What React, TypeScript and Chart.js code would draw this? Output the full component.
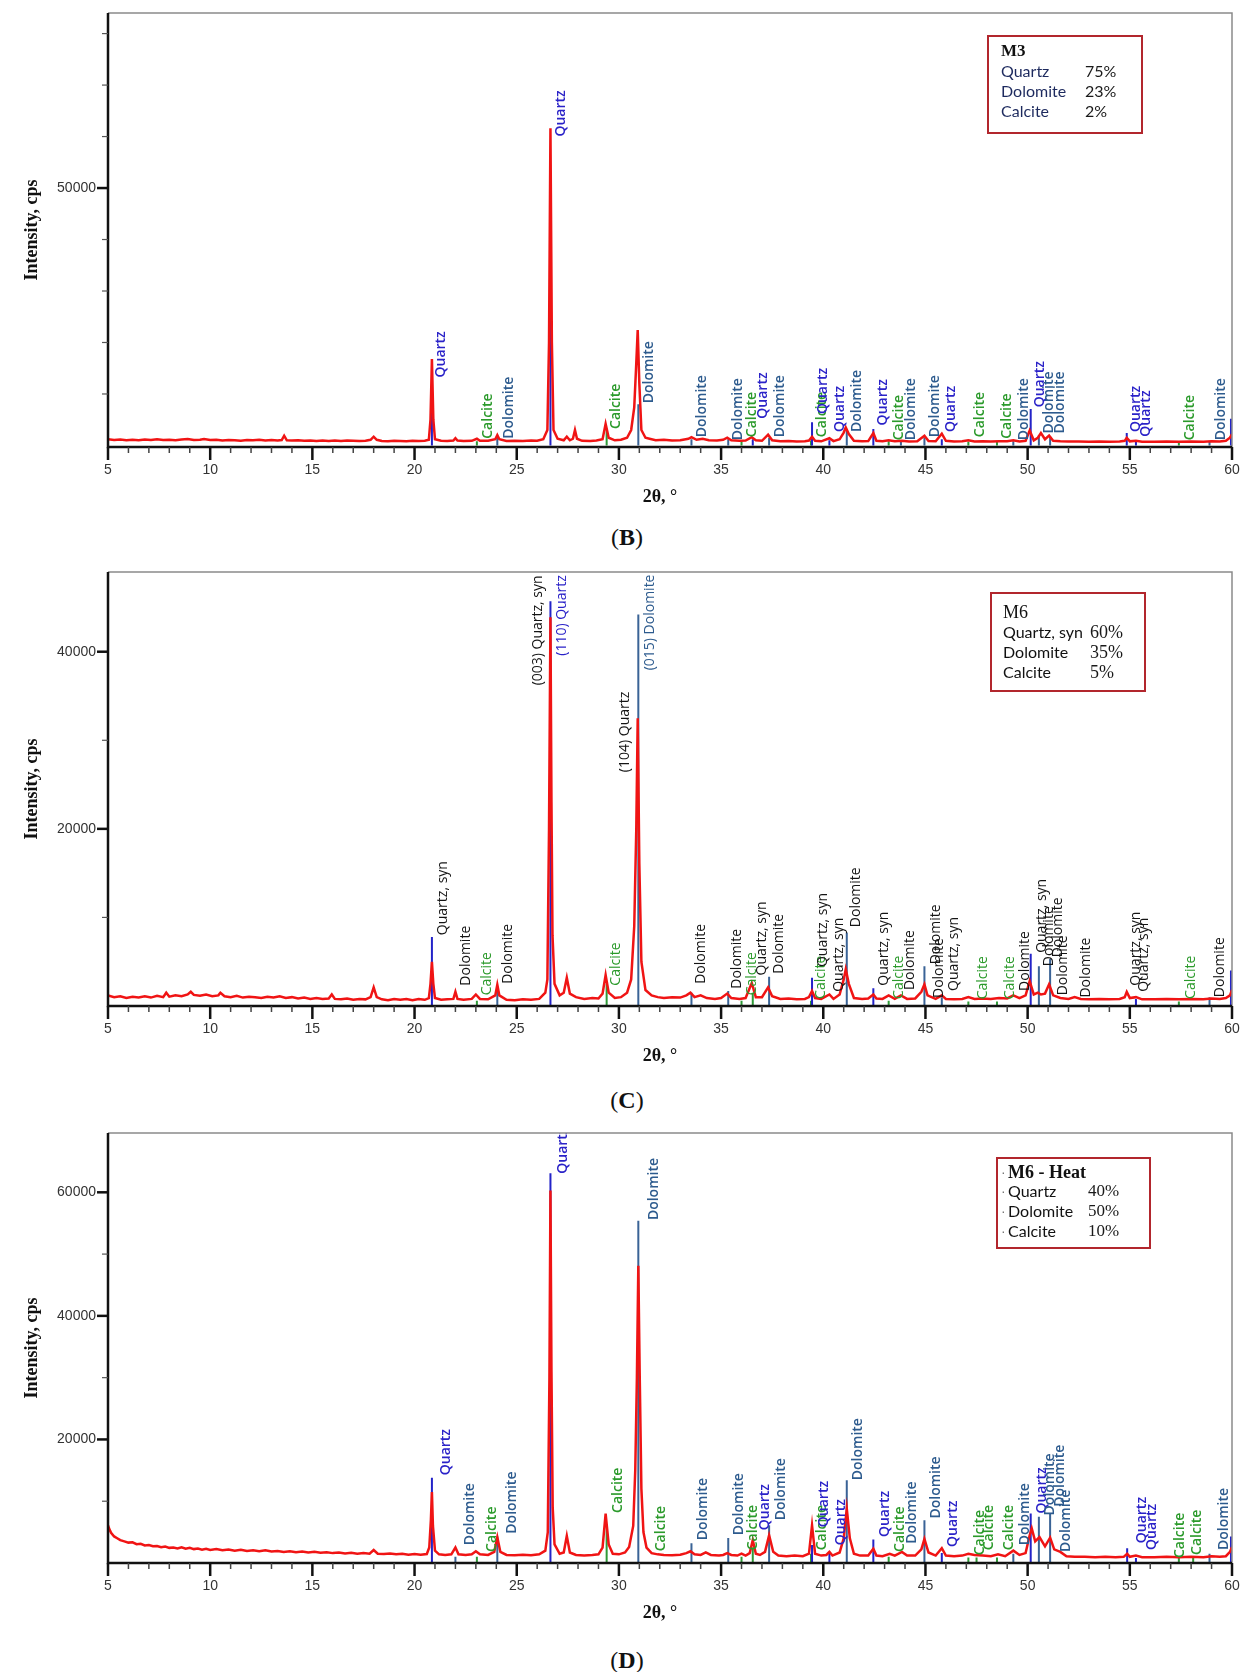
import { useEffect, useRef } from 'react';
import { Chart, registerables } from 'chart.js';

Chart.register(...registerables);

// [2θ, cps]
const B_PATTERN: number[][] = [
  [5.0, 1200], [5.3, 1050], [5.6, 1150], [5.9, 1000], [6.2, 1100], [6.5, 1000], [6.8, 1150], [7.1, 1050], [7.4, 1200], [7.7, 1050],
  [8.0, 1100], [8.3, 1000], [8.6, 1150], [8.9, 1250], [9.2, 1050], [9.5, 1100], [9.7, 1250], [10.0, 1050], [10.3, 1100], [10.6, 950],
  [10.9, 1050], [11.2, 1000], [11.5, 900], [11.8, 1050], [12.1, 1000], [12.4, 1100], [12.7, 950], [13.0, 1050], [13.3, 950], [13.5, 1050],
  [13.62, 1900], [13.75, 1000], [14.0, 950], [14.3, 1000], [14.6, 900], [14.9, 950], [15.2, 850], [15.5, 950], [15.8, 850], [16.1, 950],
  [16.4, 850], [16.7, 950], [17.0, 900], [17.3, 850], [17.6, 900], [17.85, 1100], [18.0, 1700], [18.15, 1100], [18.4, 850], [18.7, 800],
  [19.0, 900], [19.3, 850], [19.6, 800], [19.9, 900], [20.2, 850], [20.5, 900], [20.7, 1100], [20.78, 5000], [20.85, 16800], [20.92, 5000],
  [21.0, 1200], [21.3, 900], [21.6, 850], [21.9, 950], [22.0, 1400], [22.1, 950], [22.4, 850], [22.8, 900], [23.05, 1300], [23.2, 900],
  [23.6, 900], [23.95, 1200], [24.05, 2000], [24.15, 1200], [24.5, 850], [24.9, 900], [25.3, 850], [25.7, 950], [26.0, 900], [26.3, 1200],
  [26.5, 3000], [26.58, 20000], [26.65, 61600], [26.72, 20000], [26.8, 3000], [27.0, 1300], [27.3, 1000], [27.45, 1700], [27.6, 1000], [27.75, 1300],
  [27.85, 3000], [27.95, 1300], [28.2, 900], [28.6, 850], [28.9, 950], [29.2, 1200], [29.35, 4200], [29.5, 1500], [29.8, 1000], [30.1, 1100],
  [30.4, 1500], [30.6, 3000], [30.75, 7400], [30.85, 16000], [30.92, 22400], [31.0, 12000], [31.1, 3000], [31.3, 1500], [31.5, 1300], [31.8, 1000],
  [32.2, 1100], [32.6, 950], [33.0, 1000], [33.4, 1300], [33.55, 1600], [33.8, 1100], [34.1, 1300], [34.4, 1000], [34.8, 950], [35.1, 1100],
  [35.3, 1500], [35.5, 1000], [35.9, 900], [36.2, 950], [36.5, 1600], [36.7, 1000], [37.0, 900], [37.3, 2100], [37.5, 1000], [37.9, 800],
  [38.3, 850], [38.7, 750], [39.1, 800], [39.3, 950], [39.45, 1700], [39.6, 900], [39.9, 800], [40.3, 1400], [40.5, 850], [40.8, 1200],
  [41.0, 2500], [41.1, 3500], [41.25, 2200], [41.5, 900], [41.9, 800], [42.2, 850], [42.45, 2400], [42.6, 900], [42.9, 800], [43.2, 1000],
  [43.5, 800], [43.85, 900], [44.2, 750], [44.6, 800], [44.95, 1900], [45.15, 850], [45.5, 800], [45.8, 2300], [46.0, 900], [46.4, 750],
  [46.8, 800], [47.1, 1000], [47.4, 750], [47.8, 800], [48.2, 750], [48.6, 800], [49.0, 800], [49.3, 1000], [49.6, 750], [49.9, 900],
  [50.1, 2900], [50.3, 1000], [50.5, 1500], [50.65, 2400], [50.85, 1200], [51.05, 1900], [51.25, 900], [51.6, 800], [52.0, 750], [52.5, 750],
  [53.0, 700], [53.5, 750], [54.0, 700], [54.5, 750], [54.75, 900], [54.85, 1500], [55.0, 800], [55.3, 900], [55.6, 700], [56.2, 700],
  [56.8, 750], [57.4, 700], [58.0, 750], [58.6, 700], [59.0, 800], [59.4, 750], [59.7, 900], [59.9, 1500], [60.0, 2200],
];

const C_PATTERN: number[][] = [
  [5.0, 1200], [5.3, 1000], [5.6, 1100], [5.9, 900], [6.2, 1050], [6.5, 950], [6.8, 1100], [7.1, 950], [7.4, 1150], [7.7, 1000],
  [7.85, 1500], [8.0, 1050], [8.3, 1200], [8.6, 1100], [8.9, 1300], [9.05, 1600], [9.2, 1250], [9.5, 1150], [9.8, 1300], [10.1, 1100],
  [10.4, 1200], [10.5, 1500], [10.7, 1100], [11.0, 1000], [11.3, 1150], [11.6, 950], [11.9, 1050], [12.2, 1000], [12.5, 900], [12.8, 1050],
  [13.1, 950], [13.4, 1100], [13.7, 900], [14.0, 1000], [14.3, 850], [14.6, 950], [14.9, 800], [15.2, 900], [15.5, 800], [15.8, 850],
  [15.95, 1300], [16.1, 800], [16.4, 750], [16.7, 850], [17.0, 700], [17.3, 800], [17.6, 750], [17.85, 1000], [18.0, 2100], [18.15, 1000],
  [18.4, 750], [18.7, 650], [19.0, 800], [19.3, 700], [19.6, 800], [19.9, 650], [20.2, 800], [20.5, 700], [20.7, 900], [20.78, 2500],
  [20.85, 5000], [20.92, 2500], [21.0, 900], [21.3, 700], [21.6, 750], [21.9, 800], [22.0, 1600], [22.1, 800], [22.4, 700], [22.8, 800],
  [23.0, 1300], [23.2, 800], [23.6, 750], [23.95, 1200], [24.05, 2400], [24.15, 1200], [24.5, 700], [24.9, 650], [25.3, 750], [25.7, 700],
  [26.1, 800], [26.4, 1500], [26.5, 3000], [26.58, 20000], [26.65, 43900], [26.7, 23000], [26.75, 8000], [26.85, 2500], [27.1, 1200], [27.3, 1500],
  [27.45, 3200], [27.6, 1400], [27.9, 1000], [28.3, 800], [28.7, 900], [29.0, 850], [29.2, 1400], [29.35, 3500], [29.5, 1500], [29.8, 900],
  [30.1, 1000], [30.4, 1500], [30.6, 3000], [30.75, 9000], [30.85, 20000], [30.92, 32500], [31.0, 16000], [31.1, 5000], [31.3, 1800], [31.6, 1200],
  [31.9, 1000], [32.2, 900], [32.6, 1000], [33.0, 950], [33.3, 1200], [33.5, 1500], [33.7, 1000], [34.0, 1200], [34.3, 900], [34.7, 800],
  [35.0, 900], [35.3, 1400], [35.5, 900], [35.9, 800], [36.2, 900], [36.5, 2600], [36.7, 1000], [37.0, 1000], [37.3, 2100], [37.5, 1100],
  [37.9, 800], [38.3, 850], [38.7, 750], [39.1, 800], [39.3, 1000], [39.45, 1700], [39.6, 900], [39.9, 800], [40.3, 1300], [40.5, 800],
  [40.8, 1300], [41.0, 3000], [41.1, 4150], [41.25, 2500], [41.5, 900], [41.9, 800], [42.2, 850], [42.45, 1300], [42.6, 850], [42.9, 800],
  [43.2, 1200], [43.5, 800], [43.8, 1200], [44.1, 800], [44.5, 850], [44.8, 1600], [44.95, 2450], [45.1, 1200], [45.5, 800], [45.8, 1200],
  [46.0, 800], [46.4, 750], [46.8, 800], [47.1, 1000], [47.4, 800], [47.8, 850], [48.2, 800], [48.6, 900], [49.0, 850], [49.3, 1200],
  [49.6, 900], [49.9, 1200], [50.1, 2800], [50.3, 1300], [50.5, 1500], [50.65, 1300], [50.85, 1400], [51.05, 2450], [51.25, 1200], [51.6, 900],
  [52.0, 800], [52.3, 1000], [52.6, 800], [53.0, 750], [53.5, 800], [54.0, 750], [54.5, 800], [54.75, 1000], [54.85, 1600], [55.0, 900],
  [55.3, 1000], [55.6, 750], [56.2, 750], [56.8, 800], [57.4, 750], [58.0, 800], [58.6, 750], [59.0, 850], [59.4, 800], [59.7, 900],
  [59.9, 1200], [60.0, 1800],
];

const D_PATTERN: number[][] = [
  [5.0, 6100], [5.05, 5600], [5.15, 4900], [5.3, 4300], [5.45, 4000], [5.6, 3700], [5.8, 3500], [6.0, 3300], [6.2, 3350], [6.4, 3050],
  [6.6, 3100], [6.8, 2850], [7.0, 2900], [7.2, 2700], [7.4, 2750], [7.6, 2550], [7.8, 2650], [8.0, 2450], [8.2, 2500], [8.4, 2350],
  [8.6, 2550], [8.8, 2300], [9.0, 2450], [9.2, 2250], [9.4, 2350], [9.6, 2150], [9.8, 2300], [10.0, 2100], [10.3, 2250], [10.6, 2050],
  [10.9, 2200], [11.2, 2000], [11.5, 2150], [11.8, 1950], [12.1, 2050], [12.4, 1900], [12.7, 2050], [13.0, 1850], [13.3, 1950], [13.6, 1800],
  [13.9, 1900], [14.2, 1750], [14.5, 1850], [14.8, 1700], [15.1, 1800], [15.4, 1650], [15.7, 1750], [16.0, 1600], [16.3, 1700], [16.6, 1550],
  [16.9, 1650], [17.2, 1500], [17.5, 1600], [17.8, 1500], [18.0, 2100], [18.2, 1500], [18.5, 1450], [18.8, 1550], [19.1, 1400], [19.4, 1500],
  [19.7, 1350], [20.0, 1450], [20.3, 1350], [20.6, 1450], [20.72, 2500], [20.8, 7000], [20.85, 11500], [20.9, 6000], [21.0, 2000], [21.2, 1400],
  [21.5, 1300], [21.8, 1400], [22.0, 2500], [22.15, 1400], [22.5, 1300], [22.8, 1400], [23.0, 1900], [23.2, 1400], [23.6, 1300], [23.9, 1800],
  [24.05, 4200], [24.2, 1800], [24.5, 1300], [24.9, 1250], [25.3, 1350], [25.7, 1250], [26.1, 1400], [26.4, 2000], [26.52, 5000], [26.6, 30000],
  [26.65, 60300], [26.7, 31000], [26.76, 9000], [26.85, 3000], [27.1, 1500], [27.3, 1700], [27.45, 4400], [27.6, 1700], [27.9, 1300], [28.3, 1200],
  [28.7, 1300], [29.0, 1400], [29.2, 2500], [29.35, 8000], [29.5, 3000], [29.7, 1500], [30.0, 1400], [30.3, 1700], [30.5, 2600], [30.7, 6000],
  [30.8, 15000], [30.88, 30000], [30.95, 48100], [31.02, 30000], [31.1, 12000], [31.2, 5000], [31.35, 2500], [31.6, 1600], [31.9, 1400], [32.2, 1300],
  [32.6, 1250], [33.0, 1350], [33.3, 1600], [33.5, 1900], [33.7, 1400], [34.0, 1300], [34.25, 1700], [34.5, 1300], [34.9, 1200], [35.1, 1300],
  [35.3, 1600], [35.5, 1300], [35.8, 1200], [36.0, 1500], [36.2, 1200], [36.4, 1600], [36.55, 3700], [36.7, 1500], [36.9, 1300], [37.15, 1800],
  [37.35, 4500], [37.55, 1800], [37.8, 1200], [38.2, 1100], [38.6, 1200], [39.0, 1100], [39.3, 1500], [39.45, 6100], [39.6, 1500], [39.9, 1200],
  [40.15, 1300], [40.3, 1800], [40.45, 1200], [40.8, 1700], [41.0, 4000], [41.15, 8800], [41.3, 4000], [41.5, 1500], [41.8, 1200], [42.2, 1200],
  [42.45, 2300], [42.6, 1200], [42.9, 1100], [43.25, 1500], [43.5, 1200], [43.85, 1800], [44.1, 1200], [44.5, 1200], [44.8, 2200], [44.95, 3900],
  [45.15, 1700], [45.5, 1200], [45.8, 2400], [46.0, 1200], [46.4, 1100], [46.8, 1200], [47.1, 1500], [47.4, 1300], [47.8, 1200], [48.2, 1100],
  [48.55, 1400], [48.9, 1100], [49.3, 2000], [49.6, 1300], [49.9, 1600], [50.1, 4500], [50.2, 5600], [50.37, 3500], [50.58, 4200], [50.85, 2700],
  [51.1, 4100], [51.3, 2200], [51.6, 1800], [51.9, 1100], [52.3, 1000], [52.8, 1000], [53.3, 950], [53.8, 1000], [54.3, 950], [54.7, 1000],
  [54.87, 1500], [55.0, 1000], [55.3, 1200], [55.6, 950], [56.2, 950], [56.8, 1000], [57.4, 950], [58.0, 1000], [58.6, 950], [59.0, 1100],
  [59.4, 1000], [59.7, 1100], [59.9, 1800], [60.0, 2600],
];

// reference sticks: [2θ, height]
const B_QUARTZ_STICKS = [[20.85, 12000], [26.65, 32000], [36.55, 1200], [39.45, 4500], [40.3, 1000], [42.45, 3200], [45.8, 1200], [50.15, 7100], [54.85, 2400], [55.3, 1000], [59.95, 5200]];
const B_DOLOMITE_STICKS = [[24.05, 1800], [30.95, 8000], [33.55, 1200], [35.35, 1200], [37.35, 1500], [41.15, 2800], [43.8, 800], [44.95, 1500], [49.3, 800], [50.55, 2000], [51.1, 1800], [58.9, 800]];
const B_CALCITE_STICKS = [[23.05, 800], [29.4, 3000], [36.0, 800], [39.4, 900], [43.2, 800], [47.1, 700], [48.5, 700], [57.4, 700]];

const C_QUARTZ_STICKS = [[20.85, 7800], [26.65, 45700], [39.45, 3200], [42.45, 2000], [50.15, 5900], [55.3, 800], [59.95, 4000]];
const C_DOLOMITE_STICKS = [[24.05, 2000], [30.95, 44200], [33.55, 1500], [35.35, 1700], [37.35, 3300], [41.15, 8300], [44.95, 4500], [45.8, 1000], [50.55, 4500], [51.1, 5300], [58.9, 1000]];
const C_CALCITE_STICKS = [[23.05, 600], [29.4, 2500], [36.0, 600], [36.55, 1500], [39.4, 600], [43.2, 600], [47.1, 500], [48.5, 500], [57.4, 500]];

const D_QUARTZ_STICKS = [[20.85, 13800], [26.65, 63100], [39.45, 2900], [40.3, 1500], [42.45, 3800], [45.8, 1600], [50.15, 8000], [54.87, 2400], [55.3, 800], [59.95, 4300]];
const D_DOLOMITE_STICKS = [[22.0, 1000], [24.05, 4300], [30.95, 55400], [33.55, 3200], [35.35, 4050], [37.35, 6100], [41.15, 13400], [44.95, 6900], [49.3, 1500], [50.55, 7500], [51.1, 8000], [58.9, 1500]];
const D_CALCITE_STICKS = [[23.05, 1000], [29.4, 6000], [36.0, 1000], [36.55, 2500], [39.4, 1500], [43.2, 1000], [47.1, 900], [47.5, 900], [48.5, 900], [57.4, 800], [58.1, 800]];

// peak names: [2θ, cps where text starts, text, colour key]
const B_LABELS: [number, number, string, string][] = [
  [21.3, 13200, 'Quartz', 'q'], [23.6, 1300, 'Calcite', 'c'], [24.6, 1300, 'Dolomite', 'd'], [27.15, 60000, 'Quartz', 'q'],
  [29.85, 3200, 'Calcite', 'c'], [31.45, 8200, 'Dolomite', 'd'], [34.08, 1600, 'Dolomite', 'd'], [35.85, 1000, 'Dolomite', 'd'],
  [36.5, 1600, 'Calcite', 'c'], [37.06, 5200, 'Quartz', 'q'], [37.9, 1600, 'Dolomite', 'd'], [39.96, 1600, 'Calcite', 'c'],
  [40.0, 6100, 'Quartz', 'q'], [40.8, 2600, 'Quartz', 'q'], [41.67, 2600, 'Dolomite', 'd'], [42.94, 3900, 'Quartz', 'q'],
  [43.73, 1000, 'Calcite', 'c'], [44.3, 1000, 'Dolomite', 'd'], [45.45, 1600, 'Dolomite', 'd'], [46.27, 2600, 'Quartz', 'q'],
  [47.69, 1600, 'Calcite', 'c'], [49.0, 1300, 'Calcite', 'c'], [49.8, 1000, 'Dolomite', 'd'], [50.6, 7400, 'Quartz', 'q'],
  [51.04, 2300, 'Dolomite', 'd'], [51.6, 2300, 'Dolomite', 'd'], [55.3, 2600, 'Quartz', 'q'], [55.8, 1700, 'Quartz', 'q'],
  [57.94, 1000, 'Calcite', 'c'], [59.45, 1000, 'Dolomite', 'd'],
];

const C_LABELS: [number, number, string, string][] = [
  [21.37, 8000, 'Quartz, syn', 'k'], [22.54, 2300, 'Dolomite', 'k'], [23.57, 1200, 'Calcite', 'c'], [24.59, 2500, 'Dolomite', 'k'],
  [26.05, 36200, '(003) Quartz, syn', 'k'], [27.23, 39550, '(110) Quartz', 'q'], [29.86, 2300, 'Calcite', 'c'],
  [30.28, 26400, '(104) Quartz', 'k'], [31.54, 37900, '(015) Dolomite', 'd'], [34.01, 2500, 'Dolomite', 'k'],
  [35.77, 1950, 'Dolomite', 'k'], [36.5, 1200, 'Calcite', 'c'], [36.98, 3450, 'Quartz, syn', 'k'], [37.83, 3650, 'Dolomite', 'k'],
  [39.9, 800, 'Calcite', 'c'], [40.0, 4400, 'Quartz, syn', 'k'], [40.79, 1600, 'Quartz, syn', 'k'], [41.58, 8900, 'Dolomite', 'k'],
  [42.96, 2300, 'Quartz, syn', 'k'], [43.7, 800, 'Calcite', 'c'], [44.25, 1800, 'Dolomite', 'k'], [45.5, 4700, 'Dolomite', 'k'],
  [45.68, 900, 'Dolomite', 'k'], [46.38, 1700, 'Quartz, syn', 'k'], [47.8, 750, 'Calcite', 'c'], [49.13, 750, 'Calcite', 'c'],
  [49.86, 1700, 'Dolomite', 'k'], [50.7, 6000, 'Quartz, syn', 'k'], [51.05, 4500, 'Dolomite', 'k'], [51.5, 5500, 'Dolomite', 'k'],
  [51.75, 1200, 'Dolomite', 'k'], [52.88, 950, 'Dolomite', 'k'], [55.28, 2300, 'Quartz, syn', 'k'], [55.71, 1600, 'Quartz, syn', 'k'],
  [57.98, 800, 'Calcite', 'c'], [59.4, 1000, 'Dolomite', 'k'],
];

const D_LABELS: [number, number, string, string][] = [
  [21.52, 14200, 'Quartz', 'q'], [22.7, 2860, 'Dolomite', 'd'], [23.77, 1800, 'Calcite', 'c'], [24.75, 4750, 'Dolomite', 'd'],
  [27.28, 63000, 'Quartz', 'q'], [29.97, 8100, 'Calcite', 'c'], [31.7, 55500, 'Dolomite', 'd'], [32.05, 1900, 'Calcite', 'c'],
  [34.1, 3700, 'Dolomite', 'd'], [35.9, 4500, 'Dolomite', 'd'], [36.54, 2050, 'Calcite', 'c'], [37.15, 5300, 'Quartz', 'q'],
  [37.93, 6900, 'Dolomite', 'd'], [39.96, 2050, 'Calcite', 'c'], [40.04, 5800, 'Quartz', 'q'], [40.85, 2860, 'Quartz', 'q'],
  [41.72, 13400, 'Dolomite', 'd'], [43.0, 4200, 'Quartz', 'q'], [43.75, 1800, 'Calcite', 'c'], [44.35, 3130, 'Dolomite', 'd'],
  [45.5, 7200, 'Dolomite', 'd'], [46.33, 2600, 'Quartz', 'q'], [47.68, 1250, 'Calcite', 'c'], [48.09, 2050, 'Calcite', 'c'],
  [49.11, 2050, 'Calcite', 'c'], [49.88, 2860, 'Dolomite', 'd'], [50.69, 8000, 'Quartz', 'q'], [51.1, 7700, 'Dolomite', 'd'],
  [51.59, 9100, 'Dolomite', 'd'], [51.86, 1800, 'Dolomite', 'd'], [55.6, 3200, 'Quartz', 'q'], [56.1, 2100, 'Quartz', 'q'],
  [57.45, 800, 'Calcite', 'c'], [58.3, 1300, 'Calcite', 'c'], [59.6, 2100, 'Dolomite', 'd'],
];

const B_Y_TICKS = [10000, 20000, 30000, 40000, 50000, 60000, 70000, 80000];
const B_Y_LABELED = [50000];
const C_Y_TICKS = [10000, 20000, 30000, 40000];
const C_Y_LABELED = [20000, 40000];
const D_Y_TICKS = [10000, 20000, 30000, 40000, 50000, 60000];
const D_Y_LABELED = [20000, 40000, 60000];

const B_PHASES = ['Quartz', 'Dolomite', 'Calcite'];
const B_PERCENTS = ['75%', '23%', '2%'];
const C_PHASES = ['Quartz, syn', 'Dolomite', 'Calcite'];
const C_PERCENTS = ['60%', '35%', '5%'];
const D_PHASES = ['Quartz', 'Dolomite', 'Calcite'];
const D_PERCENTS = ['40%', '50%', '10%'];

const STICK_COLORS = { q: '#2323c8', d: '#3a6396', c: '#2f9a38' };
const LABEL_COLORS: Record<string, string> = { q: '#2a22c8', d: '#2d5b8e', c: '#2b9a2b', k: '#141414' };

interface BoxStyle {
  dx: number; dy: number; w: number; h: number;
  title: string; titleFont: string;
  rowFont: string; rowColor: string; pctFont: string;
  textX: number; pctX: number; titleY: number; rowY: number[]; dots?: boolean;
}

interface PanelProps {
  top: number; height: number; padTop: number; xAxisH: number;
  yMin: number; yMax: number; yTicks: number[]; yLabeled: number[];
  pattern: number[][]; quartz: number[][]; dolomite: number[][]; calcite: number[][];
  labels: [number, number, string, string][]; labelFont: string;
  phases: string[]; percents: string[]; box: BoxStyle;
}

function sticks(list: number[][]) {
  return list.flatMap(([x, h]) => [{ x, y: 0 }, { x, y: h }, { x, y: null }]);
}

function XrdPanel(p: PanelProps) {
  const canvasRef = useRef<HTMLCanvasElement>(null);
  const chartRef = useRef<Chart | null>(null);

  useEffect(() => {
    if (!canvasRef.current) return;
    if (chartRef.current) chartRef.current.destroy();

    const decor = {
      id: 'xrdDecor',
      afterDatasetsDraw(chart: any) {
        const { ctx, chartArea: ca } = chart;
        const xs = chart.scales.x, ys = chart.scales.y;
        ctx.save();
        ctx.beginPath();
        ctx.rect(ca.left, ca.top, ca.right - ca.left, ca.bottom - ca.top);
        ctx.clip();
        ctx.font = p.labelFont;
        ctx.textAlign = 'left';
        ctx.textBaseline = 'middle';
        for (const [x, y, text, key] of p.labels) {
          ctx.save();
          ctx.translate(xs.getPixelForValue(x), ys.getPixelForValue(y));
          ctx.rotate(-Math.PI / 2);
          ctx.fillStyle = LABEL_COLORS[key];
          ctx.fillText(text, 0, 0);
          ctx.restore();
        }
        ctx.restore();
      },
      afterDraw(chart: any) {
        const { ctx, chartArea: ca } = chart;
        const xs = chart.scales.x, ys = chart.scales.y;
        ctx.save();
        // frame
        ctx.strokeStyle = '#8a8a8a';
        ctx.lineWidth = 1.5;
        ctx.beginPath();
        ctx.moveTo(ca.left, ca.top);
        ctx.lineTo(ca.right, ca.top);
        ctx.lineTo(ca.right, ca.bottom);
        ctx.stroke();
        ctx.strokeStyle = '#111';
        ctx.lineWidth = 2.5;
        ctx.beginPath();
        ctx.moveTo(ca.left, ca.top);
        ctx.lineTo(ca.left, ca.bottom);
        ctx.lineTo(ca.right, ca.bottom);
        ctx.stroke();
        // x ticks and labels
        ctx.font = '14px "Liberation Sans", Arial, sans-serif';
        ctx.textAlign = 'center';
        ctx.textBaseline = 'middle';
        for (const t of xs.ticks) {
          const px = xs.getPixelForValue(t.value);
          const major = t.value % 5 === 0;
          ctx.lineWidth = major ? 2.5 : 1.5;
          ctx.strokeStyle = major ? '#111' : '#444';
          ctx.beginPath();
          ctx.moveTo(px, ca.bottom);
          ctx.lineTo(px, ca.bottom + (major ? 13 : 6));
          ctx.stroke();
          if (major) {
            ctx.fillStyle = '#333';
            ctx.fillText(String(t.value), px, ca.bottom + 23);
          }
        }
        // y ticks and labels
        ctx.textAlign = 'right';
        for (const t of ys.ticks) {
          const py = ys.getPixelForValue(t.value);
          const major = p.yLabeled.includes(t.value);
          ctx.lineWidth = major ? 2.5 : 1.2;
          ctx.strokeStyle = major ? '#111' : '#555';
          ctx.beginPath();
          ctx.moveTo(ca.left, py);
          ctx.lineTo(ca.left - (major ? 11 : 6), py);
          ctx.stroke();
          if (major) {
            ctx.fillStyle = '#333';
            ctx.fillText(String(t.value), ca.left - 12, py);
          }
        }
        // axis titles
        ctx.fillStyle = '#111';
        ctx.font = 'bold 18px "Liberation Serif", serif';
        ctx.textAlign = 'center';
        ctx.fillText('2θ, °', (ca.left + ca.right) / 2 - 10, ca.bottom + 50);
        ctx.save();
        ctx.translate(24, (ca.top + ca.bottom) / 2);
        ctx.rotate(-Math.PI / 2);
        ctx.fillText('Intensity, cps', 0, 0);
        ctx.restore();
        // composition box
        const b = p.box;
        const bx = ca.left + b.dx, by = ca.top + b.dy;
        ctx.fillStyle = '#fff';
        ctx.fillRect(bx, by, b.w, b.h);
        ctx.strokeStyle = '#b2262d';
        ctx.lineWidth = 2;
        ctx.strokeRect(bx, by, b.w, b.h);
        ctx.textAlign = 'left';
        if (b.dots) {
          ctx.fillStyle = '#777';
          ctx.font = '14px "Liberation Sans", sans-serif';
          for (const yy of [b.titleY, ...b.rowY]) ctx.fillText('·', bx + 4, by + yy);
        }
        ctx.fillStyle = '#111';
        ctx.font = b.titleFont;
        ctx.fillText(b.title, bx + b.textX, by + b.titleY);
        p.phases.forEach((name, i) => {
          ctx.font = b.rowFont;
          ctx.fillStyle = b.rowColor;
          ctx.fillText(name, bx + b.textX, by + b.rowY[i]);
          ctx.font = b.pctFont;
          ctx.fillStyle = '#1a1a1a';
          ctx.fillText(p.percents[i], bx + b.pctX, by + b.rowY[i]);
        });
        ctx.restore();
      },
    };

    chartRef.current = new Chart(canvasRef.current, {
      type: 'scatter',
      data: {
        datasets: [
          { data: p.pattern.map(([x, y]) => ({ x, y })), showLine: true, borderColor: '#f01414', borderWidth: 2.5, pointRadius: 0, tension: 0 },
          { data: sticks(p.quartz) as any, showLine: true, borderColor: STICK_COLORS.q, borderWidth: 2, pointRadius: 0, spanGaps: false },
          { data: sticks(p.dolomite) as any, showLine: true, borderColor: STICK_COLORS.d, borderWidth: 2, pointRadius: 0, spanGaps: false },
          { data: sticks(p.calcite) as any, showLine: true, borderColor: STICK_COLORS.c, borderWidth: 2, pointRadius: 0, spanGaps: false },
        ],
      },
      options: {
        animation: false,
        responsive: true,
        maintainAspectRatio: false,
        events: [],
        layout: { padding: { top: p.padTop, right: 12, left: 0, bottom: 0 } },
        plugins: { legend: { display: false }, tooltip: { enabled: false } },
        scales: {
          x: {
            type: 'linear',
            min: 5,
            max: 60,
            grid: { display: false, drawTicks: false },
            border: { display: false },
            ticks: { display: false, stepSize: 1, autoSkip: false },
            afterFit: (scale: any) => { scale.height = p.xAxisH; },
          },
          y: {
            type: 'linear',
            min: p.yMin,
            max: p.yMax,
            grid: { display: false, drawTicks: false },
            border: { display: false },
            ticks: { display: false },
            afterBuildTicks: (scale: any) => { scale.ticks = p.yTicks.map((value) => ({ value })); },
            afterFit: (scale: any) => { scale.width = 100; },
          },
        },
      },
      plugins: [decor],
    } as any);

    return () => {
      if (chartRef.current) {
        chartRef.current.destroy();
        chartRef.current = null;
      }
    };
  }, []);

  return (
    <div style={{ position: 'absolute', left: 0, top: p.top, width: 1236, height: p.height }}>
      <canvas ref={canvasRef} />
    </div>
  );
}

function Caption({ top, letter }: { top: number; letter: string }) {
  return (
    <div style={{ position: 'absolute', left: 519, width: 200, top, textAlign: 'center', fontFamily: '"Liberation Serif", serif', fontSize: 24, lineHeight: '30px', color: '#111' }}>
      (<b>{letter}</b>)
    </div>
  );
}

const PHASE_FONT = '600 14px "Open Sans", sans-serif';
const PLAIN_FONT = '14px "Open Sans", sans-serif';

export default function App() {
  return (
    <div style={{ position: 'relative', width: 1236, height: 1664, overflow: 'hidden', background: '#fff' }}>
      <XrdPanel
        top={0} height={510} padTop={5} xAxisH={71}
        yMin={-300} yMax={84000} yTicks={B_Y_TICKS} yLabeled={B_Y_LABELED}
        pattern={B_PATTERN} quartz={B_QUARTZ_STICKS} dolomite={B_DOLOMITE_STICKS} calcite={B_CALCITE_STICKS}
        labels={B_LABELS} labelFont={PHASE_FONT} phases={B_PHASES} percents={B_PERCENTS}
        box={{ dx: 880, dy: 23, w: 154, h: 97, title: 'M3', titleFont: 'bold 17px "Liberation Serif", serif',
          rowFont: '16px Lato, sans-serif', rowColor: '#1d2a5e', pctFont: '16px Lato, sans-serif',
          textX: 13, pctX: 97, titleY: 16, rowY: [36, 56, 76] }}
      />
      <Caption top={514} letter="B" />
      <XrdPanel
        top={552} height={517} padTop={12} xAxisH={71}
        yMin={0} yMax={49000} yTicks={C_Y_TICKS} yLabeled={C_Y_LABELED}
        pattern={C_PATTERN} quartz={C_QUARTZ_STICKS} dolomite={C_DOLOMITE_STICKS} calcite={C_CALCITE_STICKS}
        labels={C_LABELS} labelFont={PLAIN_FONT} phases={C_PHASES} percents={C_PERCENTS}
        box={{ dx: 883, dy: 21, w: 154, h: 98, title: 'M6', titleFont: '18px "Liberation Serif", serif',
          rowFont: '16px Lato, sans-serif', rowColor: '#111', pctFont: '18px "Liberation Serif", serif',
          textX: 12, pctX: 99, titleY: 20, rowY: [40, 60, 80] }}
      />
      <Caption top={1077} letter="C" />
      <XrdPanel
        top={1112} height={515} padTop={13} xAxisH={72}
        yMin={0} yMax={69600} yTicks={D_Y_TICKS} yLabeled={D_Y_LABELED}
        pattern={D_PATTERN} quartz={D_QUARTZ_STICKS} dolomite={D_DOLOMITE_STICKS} calcite={D_CALCITE_STICKS}
        labels={D_LABELS} labelFont={PHASE_FONT} phases={D_PHASES} percents={D_PERCENTS}
        box={{ dx: 889, dy: 25, w: 153, h: 90, title: 'M6 - Heat', titleFont: 'bold 18px "Liberation Serif", serif',
          rowFont: '16px Lato, sans-serif', rowColor: '#111', pctFont: '17px "Liberation Serif", serif',
          textX: 11, pctX: 91, titleY: 15, rowY: [34, 54, 74], dots: true }}
      />
      <Caption top={1637} letter="D" />
    </div>
  );
}
